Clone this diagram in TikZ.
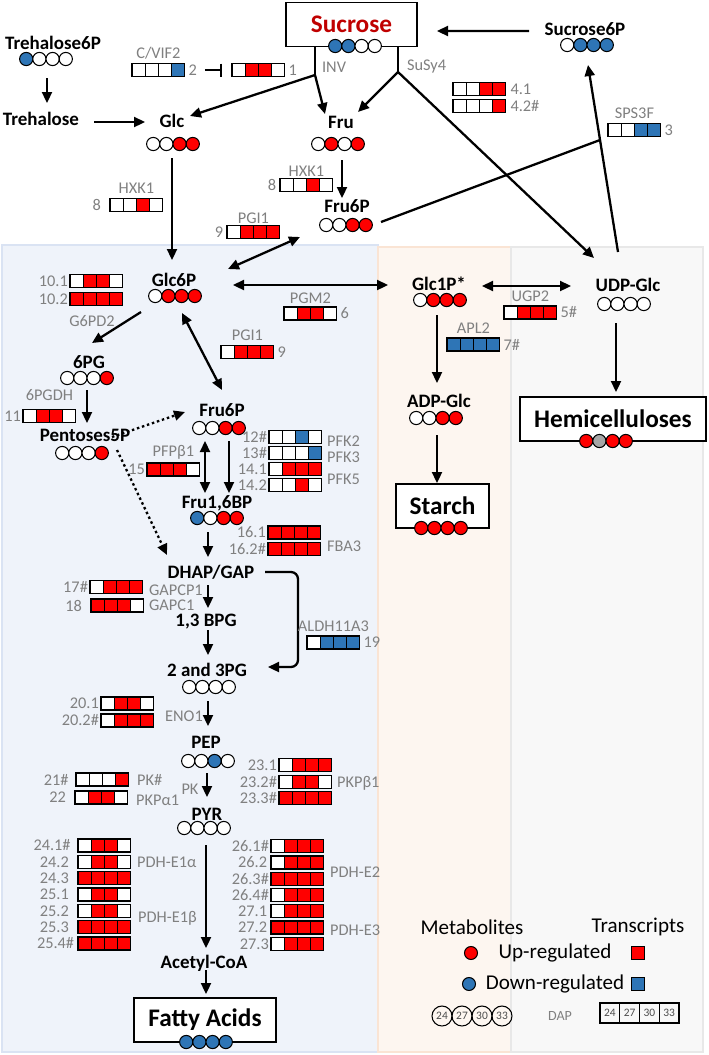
\documentclass[tikz,border=0pt]{standalone}
\usepackage{fontspec}
\setmainfont{Carlito}
\usepackage{tikz}
\usetikzlibrary{arrows.meta, calc, positioning}
\definecolor{up}{RGB}{255,0,0}
\definecolor{dn}{RGB}{46,117,182}
\definecolor{wh}{RGB}{255,255,255}
\definecolor{gy}{RGB}{166,166,166}
\definecolor{lbl}{RGB}{128,128,128}
\definecolor{sucred}{RGB}{192,0,0}
\definecolor{cytbg}{RGB}{239,243,250}
\definecolor{cytln}{RGB}{218,227,243}
\definecolor{plsbg}{RGB}{253,246,240}
\definecolor{plsln}{RGB}{250,228,212}
\definecolor{cwbg}{RGB}{248,248,248}
\definecolor{cwln}{RGB}{232,232,232}
\tikzset{
  met/.style={font=\fontsize{10.8}{13}\selectfont\bfseries, inner sep=1pt},
  pool/.style={draw, line width=0.7pt, fill=white, font=\fontsize{14.4}{16}\selectfont\bfseries, minimum height=0.88cm, inner sep=0pt},
  gl/.style={text=lbl, font=\fontsize{9.3}{11}\selectfont, inner sep=1pt},
  leg/.style={font=\fontsize{12}{14}\selectfont, inner sep=1pt},
  metdot/.style={draw, line width=0.6pt},
  cell/.style={draw, line width=0.6pt},
  genebox/.style={minimum width=1.056cm, minimum height=0.26cm, inner sep=0pt, outer sep=0pt, anchor=west},
  flux/.style={line width=1.3pt},
  dot/.style={draw, circle, line width=0.6pt, minimum size=0.26cm, inner sep=0pt},
  sq/.style={draw, line width=0.6pt, minimum size=0.27cm, inner sep=0pt},
  dapc/.style={draw, circle, line width=0.6pt, minimum size=0.4cm, inner sep=0pt, text=black!70, font=\fontsize{6.5}{7}\selectfont},
  dapq/.style={draw, line width=0.6pt, minimum width=0.395cm, minimum height=0.4cm, inner sep=0pt, text=black!70, font=\fontsize{6.5}{7}\selectfont}
}
\newcommand{\mets}[2]{%
  \foreach \col [count=\i] in {#2}
    \draw[metdot, fill=\col] ($(#1)+({(\i-2.5)*13.2},0)$) circle[radius=0.132cm];}
\newcommand{\genes}[3]{%
  \node[genebox] (#1) at (#2) {};
  \foreach \col [count=\i] in {#3}
    \draw[cell, fill=\col] ([xshift={(\i-1)*0.264cm}]#1.south west) rectangle ++(0.264cm,0.26cm);}

\begin{document}
\begin{tikzpicture}[x=0.02cm, y=-0.02cm, >={Triangle[length=2.2mm,width=2mm]}]
\useasboundingbox (0,0) rectangle (709,1055);

\draw[cytln, fill=cytbg, line width=0.8pt] (2,245) rectangle (378,1052);
\draw[plsln, fill=plsbg, line width=0.8pt] (378,247) rectangle (511,1052);
\draw[cwln, fill=cwbg, line width=0.8pt] (511,247) rectangle (703,1052);

\node[met] (t6p) at (53,43) {Trehalose6P};
\node[met] (tre) at (41,119) {Trehalose};
\node[pool, minimum width=2.62cm, text=sucred] (suc) at (351.5,24.5) {Sucrose};
\node[met] (s6p) at (585,29) {Sucrose6P};
\node[met] (glc) at (172,121) {Glc};
\node[met] (fru) at (341,122) {Fru};
\node[met] (f6pt) at (347,206) {Fru6P};
\node[met] (g6p) at (174,280) {Glc6P};
\node[met] (g1p) at (439,284) {Glc1P*};
\node[met] (udp) at (628,285) {UDP-Glc};
\node[met] (pg6) at (89,362) {6PG};
\node[met] (f6p) at (222,410) {Fru6P};
\node[met] (p5p) at (85,435) {Pentoses5P};
\node[met] (fbp) at (217,503) {Fru1,6BP};
\node[met] (adpg) at (439,401) {ADP-Glc};
\node[pool, minimum width=1.86cm] (starch) at (442.5,506) {Starch};
\node[pool, minimum width=3.72cm] (hemi) at (613,419) {Hemicelluloses};
\node[met] (dhap) at (211,572) {DHAP/GAP};
\node[met] (bpg) at (206,622) {1,3 BPG};
\node[met] (pg23) at (207,670) {2 and 3PG};
\node[met] (pep) at (206,742) {PEP};
\node[met] (pyr) at (207,814) {PYR};
\node[met] (acoa) at (204,963) {Acetyl-CoA};
\node[pool, minimum width=2.84cm] (fa) at (205,1020) {Fatty Acids};

\coordinate (inv) at (315,75);
\coordinate (susy) at (398,72);
\node[gl, anchor=west] (linv) at (320,67) {INV};
\node[gl, anchor=west] (lsusy) at (405,67) {SuSy4};

\draw[flux, ->] ($(t6p)+(-6,35)$) -- ($(tre)+(6,-16)$);
\draw[flux, ->] ($(tre)+(53,3)$) -- ($(glc)+(-27,1)$);
\draw[flux] (suc.south -| inv) -- (inv);
\draw[flux, ->] (inv) -- ($(glc)+(18,-5)$);
\draw[flux, ->] (inv) -- ($(fru)+(-16,-8)$);
\draw[flux] (suc.south -| susy) -- (susy);
\draw[flux, ->] (susy) -- ($(fru)+(17,-10)$);
\draw[flux, ->] (susy) -- ($(udp)+(-34,-27)$);
\draw[flux, ->] ($(s6p)+(-56,2)$) -- ($(suc)+(85.5,6.5)$);
\draw[flux, ->] ($(glc)+(0,37)$) -- ($(g6p)+(-2,-20)$);
\draw[flux, ->] ($(fru)+(1,38)$) -- ($(f6pt)+(-5,-8)$);
\coordinate (sps) at (600,140);
\draw[flux] ($(f6pt)+(34,16)$) -- (sps);
\draw[flux, ->] ($(udp)+(-10,-33)$) -- ($(s6p)+(3,36)$);
\draw[flux, <->] ($(g6p)+(54,-11)$) -- ($(f6pt)+(-47,31)$);
\draw[flux, <->] ($(g6p)+(59,5)$) -- ($(g1p)+(-51,1)$);
\draw[flux, ->] ($(g6p)+(-33,32)$) -- ($(pg6)+(3,-19)$);
\draw[flux, <->] ($(g6p)+(8,33)$) -- ($(f6p)+(0,-20)$);
\draw[flux, ->] ($(pg6)+(-2,28)$) -- ($(p5p)+(2,-12)$);
\draw[flux, ->, dash pattern=on 1.4pt off 1.6pt] ($(p5p)+(27,2)$) -- ($(f6p)+(-37,2)$);
\draw[flux, ->, dash pattern=on 1.4pt off 1.6pt] ($(p5p)+(32,15)$) -- ($(dhap)+(-44,-17)$);
\draw[flux, <->] ($(f6p)+(-17,31)$) -- ($(fbp)+(-12,-10)$);
\draw[flux, ->] ($(f6p)+(7,31)$) -- ($(fbp)+(12,-10)$);
\draw[flux, ->] ($(fbp)+(-9,29)$) -- ($(dhap)+(-3,-15)$);
\draw[flux, ->] ($(dhap)+(-3,13)$) -- ($(bpg)+(2,-14)$);
\draw[flux, ->] ($(bpg)+(2,8)$) -- ($(pg23)+(1,-15)$);
\draw[flux, ->, rounded corners=4pt] ($(dhap)+(54,0)$) -| ($(pg23)+(91,-3)$) -- ($(pg23)+(61,-3)$);
\draw[flux, ->] ($(pg23)+(1,31)$) -- ($(pep)+(2,-16)$);
\draw[flux, ->] ($(pep)+(1,31)$) -- ($(pyr)+(0,-17)$);
\draw[flux, ->] ($(pyr)+(-1,31)$) -- ($(acoa)+(2,-15)$);
\draw[flux, ->] ($(acoa)+(2,7)$) -- ($(fa)+(1,-26)$);
\draw[flux, <->] ($(g1p)+(43,2)$) -- ($(udp)+(-57,1)$);
\draw[flux, ->] ($(g1p)+(-2,31)$) -- ($(adpg)+(-2,-18)$);
\draw[flux, ->] ($(adpg)+(-2,34)$) -- ($(starch)+(-5.5,-23)$);
\draw[flux, ->] ($(udp)+(-12,38)$) -- ($(hemi)+(3,-27)$);

\mets{46,59}{dn,wh,wh,wh}
\mets{355,46}{dn,dn,wh,wh}
\mets{587,45}{wh,dn,dn,dn}
\mets{173,144}{wh,wh,up,up}
\mets{338,144}{wh,up,wh,up}
\mets{346,225}{wh,wh,up,up}
\mets{175,296}{wh,up,up,up}
\mets{440,300}{wh,up,up,up}
\mets{624,304}{wh,wh,wh,wh}
\mets{87,378}{wh,wh,wh,up}
\mets{219,428}{wh,wh,up,up}
\mets{82,453}{wh,wh,wh,up}
\mets{217,518}{dn,wh,up,up}
\mets{436,418}{wh,wh,up,up}
\mets{441,528}{up,up,up,up}
\mets{606,441}{up,gy,up,up}
\mets{209,687}{wh,wh,wh,wh}
\mets{208,761}{wh,wh,dn,wh}
\mets{204,828}{wh,wh,wh,wh}
\mets{206,1042}{dn,dn,dn,dn}

\genes{g2}{132,70}{wh,wh,wh,dn}
\node[gl, above=1.5pt of g2] (lg2) {C/VIF2};
\node[gl, right=1pt of g2] (ng2) {2};
\genes{g1}{232,70}{wh,up,up,wh}
\node[gl, right=1pt of g1] (ng1) {1};
\draw[flux, -{Bar[width=2.6mm]}] ($(g2.east)+(20,0)$) -- ($(g1.west)+(-10,0)$);
\genes{g41}{453,89}{wh,wh,up,up}
\node[gl, right=1.5pt of g41] (ng41) {4.1};
\genes{g42}{453,106}{wh,wh,wh,up}
\node[gl, right=1.5pt of g42] (ng42) {4.2\#};
\genes{g3}{608,130}{wh,wh,dn,dn}
\node[gl, above=1.5pt of g3] (lg3) {SPS3F};
\node[gl, right=1pt of g3] (ng3) {3};
\genes{g8a}{110,205}{wh,wh,up,wh}
\node[gl, above=1.5pt of g8a] (lg8a) {HXK1};
\node[gl, left=4pt of g8a] (ng8a) {8};
\genes{g8b}{280,185}{wh,wh,up,wh}
\node[gl, above=0pt of g8b] (lg8b) {HXK1};
\node[gl, left=1pt of g8b] (ng8b) {8};
\genes{g9a}{227,232}{wh,up,up,up}
\node[gl, above=0pt of g9a] (lg9a) {PGI1};
\node[gl, left=1pt of g9a] (ng9a) {9};
\genes{g101}{70,281}{wh,up,up,wh}
\node[gl, left=0pt of g101] (ng101) {10.1};
\genes{g102}{70,299}{up,up,up,up}
\node[gl, left=0pt of g102] (ng102) {10.2};
\node[gl] (lg10) at (92,321) {G6PD2};
\genes{g6}{284,313.5}{wh,up,up,wh}
\node[gl, above=1pt of g6] (lg6) {PGM2};
\node[gl, right=1pt of g6] (ng6) {6};
\genes{g9b}{221,352}{wh,up,up,up}
\node[gl, above=1.5pt of g9b] (lg9b) {PGI1};
\node[gl, right=1pt of g9b] (ng9b) {9};
\genes{g5}{504,312.5}{wh,up,up,up}
\node[gl, above=1.5pt of g5] (lg5) {UGP2};
\node[gl, right=1pt of g5] (ng5) {5\#};
\genes{g7}{447,344.5}{dn,dn,dn,dn}
\node[gl, above=1.5pt of g7] (lg7) {APL2};
\node[gl, right=1pt of g7] (ng7) {7\#};
\genes{g11}{23,416}{wh,up,up,wh}
\node[gl, above=4pt of g11] (lg11) {6PGDH};
\node[gl, left=0pt of g11] (ng11) {11};
\genes{g15}{147,469.5}{up,up,up,wh}
\node[gl, above=1pt of g15] (lg15) {PFPβ1};
\node[gl, left=0pt of g15] (ng15) {15};
\genes{g12}{269,437}{wh,wh,dn,wh}
\node[gl, left=0pt of g12] (ng12) {12\#};
\genes{g13}{269,453}{wh,wh,wh,dn}
\node[gl, left=0pt of g13] (ng13) {13\#};
\genes{g141}{269,469}{wh,up,up,up}
\node[gl, left=0pt of g141] (ng141) {14.1};
\genes{g142}{269,485}{wh,wh,up,wh}
\node[gl, left=0pt of g142] (ng142) {14.2};
\node[gl, anchor=west] (lpfk2) at (325,441) {PFK2};
\node[gl, anchor=west] (lpfk3) at (325,457) {PFK3};
\node[gl, anchor=west] (lpfk5) at (325,479) {PFK5};
\genes{g161}{268,532.5}{up,up,up,up}
\node[gl, left=0pt of g161] (ng161) {16.1};
\genes{g162}{268,549}{up,up,up,up}
\node[gl, left=0pt of g162] (ng162) {16.2\#};
\node[gl, anchor=west] (lfba) at (325,546) {FBA3};
\genes{g19}{307,642.5}{wh,dn,dn,dn}
\node[gl, above=1.5pt of g19] (lg19) {ALDH11A3};
\node[gl, right=1pt of g19] (ng19) {19};
\genes{g17}{90,587}{wh,up,up,up}
\node[gl, left=0pt of g17] (ng17) {17\#};
\node[gl, anchor=west] (lg17) at (147,590) {GAPCP1};
\genes{g18}{91,605.5}{up,up,up,wh}
\node[gl, left=4pt of g18] (ng18) {18};
\node[gl, anchor=west] (lg18) at (147,605) {GAPC1};
\genes{g201}{101,703.5}{wh,up,up,wh}
\node[gl, left=0pt of g201] (ng201) {20.1};
\genes{g202}{101,720.5}{wh,up,up,up}
\node[gl, left=0pt of g202] (ng202) {20.2\#};
\node[gl] (leno) at (184,716) {ENO1};
\genes{g21}{76,779.5}{wh,wh,wh,up}
\node[gl, left=3pt of g21] (ng21) {21\#};
\node[gl, anchor=west] (lg21) at (135,780) {PK\#};
\genes{g22}{75,797.5}{wh,up,up,wh}
\node[gl, left=4pt of g22] (ng22) {22};
\node[gl, anchor=west] (lg22) at (134,800) {PKPα1};
\node[gl] (lpk) at (190,789) {PK};
\genes{g231}{279,765}{wh,up,up,up}
\node[gl, left=0pt of g231] (ng231) {23.1};
\genes{g232}{279,782}{wh,up,up,wh}
\node[gl, left=0pt of g232] (ng232) {23.2\#};
\genes{g233}{279,798}{up,up,up,up}
\node[gl, left=0pt of g233] (ng233) {23.3\#};
\node[gl, anchor=west] (lg23) at (335,783) {PKPβ1};
\genes{g241}{78,845.5}{wh,up,up,wh}
\node[gl, left=3pt of g241] (ng241) {24.1\#};
\genes{g242}{78,862}{wh,up,up,wh}
\node[gl, left=4pt of g242] (ng242) {24.2};
\genes{g243}{78,878}{up,up,up,up}
\node[gl, left=4pt of g243] (ng243) {24.3};
\genes{g251}{78,894.5}{wh,up,up,wh}
\node[gl, left=4pt of g251] (ng251) {25.1};
\genes{g252}{78,911}{wh,up,up,wh}
\node[gl, left=4pt of g252] (ng252) {25.2};
\genes{g253}{78,927}{up,up,up,up}
\node[gl, left=4pt of g253] (ng253) {25.3};
\genes{g254}{78,943.5}{up,up,up,up}
\node[gl, left=1pt of g254] (ng254) {25.4\#};
\node[gl, anchor=west] (lpdh1a) at (135,862) {PDH-E1α};
\node[gl, anchor=west] (lpdh1b) at (136,918) {PDH-E1β};
\genes{g261}{271,846}{wh,up,up,up}
\node[gl, left=0pt of g261] (ng261) {26.1\#};
\genes{g262}{271,862.5}{wh,up,up,up}
\node[gl, left=1pt of g262] (ng262) {26.2};
\genes{g263}{271,879}{up,up,up,up}
\node[gl, left=0pt of g263] (ng263) {26.3\#};
\genes{g264}{271,895}{wh,up,up,up}
\node[gl, left=0pt of g264] (ng264) {26.4\#};
\genes{g271}{271,911}{wh,up,up,up}
\node[gl, left=1pt of g271] (ng271) {27.1};
\genes{g272}{271,927.5}{up,up,up,up}
\node[gl, left=1pt of g272] (ng272) {27.2};
\genes{g273}{271,944}{wh,up,up,up}
\node[gl, left=0pt of g273] (ng273) {27.3};
\node[gl, anchor=west] (lpdh2) at (328,872) {PDH-E2};
\node[gl, anchor=west] (lpdh3) at (328,930) {PDH-E3};

\node[leg] (lmet) at (472,927) {Metabolites};
\node[leg] (ltr) at (638,927) {Transcripts};
\node[dot, fill=up] (cup) at (471,953) {};
\node[leg] (lup) at (555,953) {Up-regulated};
\node[sq, fill=up] (qup) at (638,953) {};
\node[dot, fill=dn] (cdn) at (469,984) {};
\node[leg] (ldn) at (555,984) {Down-regulated};
\node[sq, fill=dn] (qdn) at (638,984) {};
\foreach \d [count=\i] in {24,27,30,33}
  \node[dapc] (dc\d) at ({422+20*\i},1016) {\d};
\node[gl, font=\fontsize{8}{9}\selectfont] (ldap) at (560,1016) {DAP};
\foreach \d [count=\i] in {24,27,30,33}
  \node[dapq] (dq\d) at ({590.1+19.75*\i},1013) {\d};
\end{tikzpicture}
\end{document}
